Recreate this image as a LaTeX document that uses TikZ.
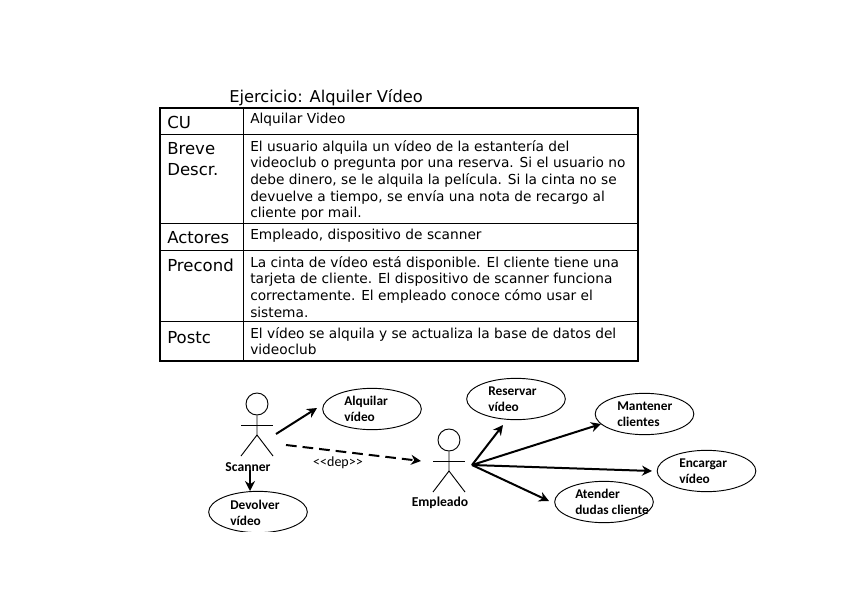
\documentclass[tikz,border=0pt]{standalone}
\usepackage{fontspec}
\setmainfont{DejaVu Sans}
\newfontfamily\umlfont{Carlito}
\usetikzlibrary{shapes.geometric,arrows.meta,positioning}
\tikzset{
  head/.style={draw,circle,minimum size=16.5pt,inner sep=0pt,line width=.7pt},
  limb/.style={line width=.7pt},
  uc/.style={draw,ellipse,minimum width=74pt,minimum height=31pt,inner sep=0pt,line width=.7pt},
  uctext/.style={anchor=west,align=left,inner sep=0pt,font=\umlfont\bfseries\fontsize{10}{12.4}\selectfont},
  actname/.style={inner sep=0pt,font=\umlfont\bfseries\fontsize{10.2}{11}\selectfont},
  rowlabel/.style={anchor=west,align=left,inner sep=0pt,font=\fontsize{12.4}{16}\selectfont},
  rowtext/.style={anchor=north west,align=left,inner sep=0pt,font=\fontsize{10.3}{12.5}\selectfont},
  arr/.style={-{Stealth[length=7.5pt,width=7.5pt]},line width=1.5pt}
}
\begin{document}
\begin{tikzpicture}[x=.75pt,y=-.75pt]
\useasboundingbox (0,0) rectangle (848,599);
\node[inner sep=0pt,anchor=west,font=\fontsize{12.2}{15}\selectfont] (title) at (229,98) {Ejercicio: Alquiler Vídeo};
% table
\node[draw,line width=1.5pt,minimum width=358.5pt,minimum height=189.75pt,inner sep=0pt] (frame) at (399,234.5) {};
\foreach \y in {134,223,250,321}{
  \draw[line width=.6pt] (frame.west |- 0,\y) -- (frame.east |- 0,\y);
}
\draw[line width=.6pt] (243,0 |- frame.north) -- (243,0 |- frame.south);
\node[rowlabel] (cu) at (167,122) {CU};
\node[rowlabel] (breve) at (167,159) {Breve\\Descr.};
\node[rowlabel] (actores) at (167,238) {Actores};
\node[rowlabel] (precond) at (167,265) {Precond};
\node[rowlabel] (postc) at (167,338) {Postc};
\node[rowtext] (cutext) at (250,113) {Alquilar Video};
\node[rowtext] (brevetext) at (250,140) {El usuario alquila un vídeo de la estantería del\\videoclub o pregunta por una reserva. Si el usuario no\\debe dinero, se le alquila la película. Si la cinta no se\\devuelve a tiempo, se envía una nota de recargo al\\cliente por mail.};
\node[rowtext] (actorestext) at (250,228.5) {Empleado, dispositivo de scanner};
\node[rowtext] (precondtext) at (250,256) {La cinta de vídeo está disponible. El cliente tiene una\\tarjeta de cliente. El dispositivo de scanner funciona\\correctamente. El empleado conoce cómo usar el\\sistema.};
\node[rowtext] (postctext) at (250,327) {El vídeo se alquila y se actualiza la base de datos del\\videoclub};
% actors
\foreach \n/\x/\y in {scan/257/404,emp/449/440}{
  \node[head] (\n) at (\x,\y) {};
  \coordinate (\n hip) at (\x,\y+31);
  \draw[limb] (\n) -- (\n hip) -- ++(-16,21);
  \draw[limb] (\n hip) -- ++(16,21);
  \draw[limb] (\x-16,\y+21) -- (\x+16,\y+21);
}
\node[actname] (scanname) at (248,467) {Scanner};
\node[actname] (empname) at (440,503) {Empleado};
% use cases
\foreach \n/\x/\y/\tx/\a/\b in {alq/372/409/344/Alquilar/vídeo,res/516/399/488/Reservar/vídeo,man/644.5/414/617/Mantener/clientes,enc/706.5/471/679/Encargar/vídeo,ate/604/502/575/Atender/dudas cliente}{
  \node[uc] (\n) at (\x,\y) {};
  \node[uctext] (\n text) at (\tx,\y) {\a\\\b};
}
\begin{scope}
\clip (200,485) rectangle (320,531);
\node[uc] (dev) at (258,512) {};
\end{scope}
\node[uctext] (dev text) at (230,513) {Devolver\\vídeo};
% connectors
\coordinate (hub) at (472,465);
\coordinate (scanout) at (276,434);
\coordinate (scandep) at (286,445);
\coordinate (scandown) at (250,470);
\coordinate (depend) at (421,461);
\coordinate (devtop) at (250,491);
\coordinate (alqtip) at (317,408);
\coordinate (restip) at (503,425);
\coordinate (mantip) at (601,424);
\coordinate (enctip) at (652,471);
\coordinate (atetip) at (549,501);
\draw[arr] (scanout) -- (alqtip);
\draw[arr,dash pattern=on 8pt off 4.5pt] (scandep) -- (depend);
\draw[arr] (scandown) -- (devtop);
\foreach \t in {restip,mantip,enctip,atetip}{
  \draw[arr] (hub) -- (\t);
}
\node[inner sep=0pt,font=\umlfont\fontsize{10.5}{11}\selectfont] (dep) at (338,463) {<<dep>>};
\end{tikzpicture}
\end{document}
